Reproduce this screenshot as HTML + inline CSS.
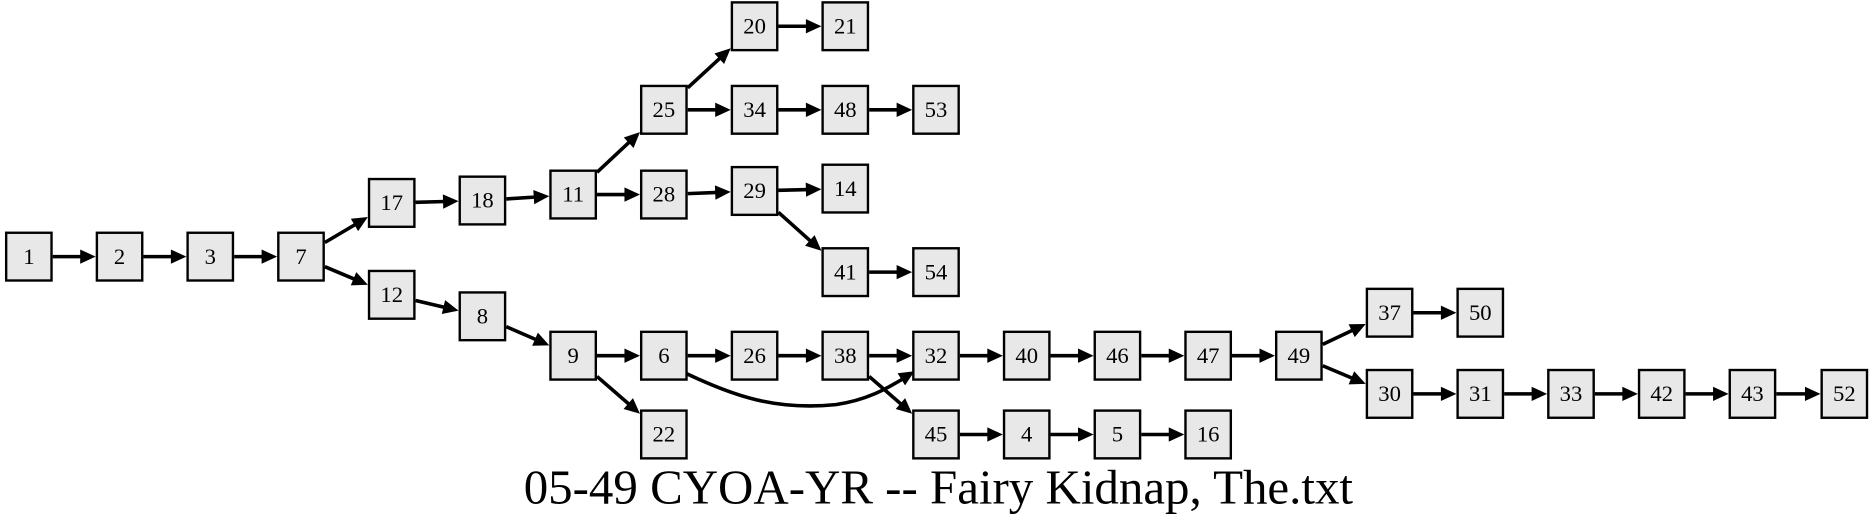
<!DOCTYPE html>
<html><head><meta charset="utf-8"><style>
html,body{margin:0;padding:0;background:#fff;}
svg{display:block;}
text{font-family:"Liberation Serif",serif;}
</style></head><body>
<svg id="s" width="1872" height="524" viewBox="0 0 1568 439" xmlns="http://www.w3.org/2000/svg">
<rect width="1568" height="439" fill="#fff"/>
<g id="edges" stroke="#000" stroke-width="3" fill="none"></g>
<g id="heads" fill="#000"></g>
<g id="nodes" fill="#e8e8e8" stroke="#000" stroke-width="2" font-size="19" text-anchor="middle">
<g transform="translate(24,215)"><rect x="-19" y="-20" width="38" height="40"/><text y="6" stroke="none" fill="#000">1</text></g>
<g transform="translate(100,215)"><rect x="-19" y="-20" width="38" height="40"/><text y="6" stroke="none" fill="#000">2</text></g>
<g transform="translate(176,215)"><rect x="-19" y="-20" width="38" height="40"/><text y="6" stroke="none" fill="#000">3</text></g>
<g transform="translate(252,215)"><rect x="-19" y="-20" width="38" height="40"/><text y="6" stroke="none" fill="#000">7</text></g>
<g transform="translate(328,170)"><rect x="-19" y="-20" width="38" height="40"/><text y="6" stroke="none" fill="#000">17</text></g>
<g transform="translate(328,247)"><rect x="-19" y="-20" width="38" height="40"/><text y="6" stroke="none" fill="#000">12</text></g>
<g transform="translate(404,168)"><rect x="-19" y="-20" width="38" height="40"/><text y="6" stroke="none" fill="#000">18</text></g>
<g transform="translate(404,265)"><rect x="-19" y="-20" width="38" height="40"/><text y="6" stroke="none" fill="#000">8</text></g>
<g transform="translate(480,163)"><rect x="-19" y="-20" width="38" height="40"/><text y="6" stroke="none" fill="#000">11</text></g>
<g transform="translate(480,298)"><rect x="-19" y="-20" width="38" height="40"/><text y="6" stroke="none" fill="#000">9</text></g>
<g transform="translate(556,92)"><rect x="-19" y="-20" width="38" height="40"/><text y="6" stroke="none" fill="#000">25</text></g>
<g transform="translate(556,163)"><rect x="-19" y="-20" width="38" height="40"/><text y="6" stroke="none" fill="#000">28</text></g>
<g transform="translate(556,298)"><rect x="-19" y="-20" width="38" height="40"/><text y="6" stroke="none" fill="#000">6</text></g>
<g transform="translate(556,364)"><rect x="-19" y="-20" width="38" height="40"/><text y="6" stroke="none" fill="#000">22</text></g>
<g transform="translate(632,22)"><rect x="-19" y="-20" width="38" height="40"/><text y="6" stroke="none" fill="#000">20</text></g>
<g transform="translate(632,92)"><rect x="-19" y="-20" width="38" height="40"/><text y="6" stroke="none" fill="#000">34</text></g>
<g transform="translate(632,160)"><rect x="-19" y="-20" width="38" height="40"/><text y="6" stroke="none" fill="#000">29</text></g>
<g transform="translate(632,298)"><rect x="-19" y="-20" width="38" height="40"/><text y="6" stroke="none" fill="#000">26</text></g>
<g transform="translate(708,22)"><rect x="-19" y="-20" width="38" height="40"/><text y="6" stroke="none" fill="#000">21</text></g>
<g transform="translate(708,92)"><rect x="-19" y="-20" width="38" height="40"/><text y="6" stroke="none" fill="#000">48</text></g>
<g transform="translate(708,158)"><rect x="-19" y="-20" width="38" height="40"/><text y="6" stroke="none" fill="#000">14</text></g>
<g transform="translate(708,228)"><rect x="-19" y="-20" width="38" height="40"/><text y="6" stroke="none" fill="#000">41</text></g>
<g transform="translate(708,298)"><rect x="-19" y="-20" width="38" height="40"/><text y="6" stroke="none" fill="#000">38</text></g>
<g transform="translate(784,92)"><rect x="-19" y="-20" width="38" height="40"/><text y="6" stroke="none" fill="#000">53</text></g>
<g transform="translate(784,228)"><rect x="-19" y="-20" width="38" height="40"/><text y="6" stroke="none" fill="#000">54</text></g>
<g transform="translate(784,298)"><rect x="-19" y="-20" width="38" height="40"/><text y="6" stroke="none" fill="#000">32</text></g>
<g transform="translate(784,364)"><rect x="-19" y="-20" width="38" height="40"/><text y="6" stroke="none" fill="#000">45</text></g>
<g transform="translate(860,298)"><rect x="-19" y="-20" width="38" height="40"/><text y="6" stroke="none" fill="#000">40</text></g>
<g transform="translate(860,364)"><rect x="-19" y="-20" width="38" height="40"/><text y="6" stroke="none" fill="#000">4</text></g>
<g transform="translate(936,298)"><rect x="-19" y="-20" width="38" height="40"/><text y="6" stroke="none" fill="#000">46</text></g>
<g transform="translate(936,364)"><rect x="-19" y="-20" width="38" height="40"/><text y="6" stroke="none" fill="#000">5</text></g>
<g transform="translate(1012,298)"><rect x="-19" y="-20" width="38" height="40"/><text y="6" stroke="none" fill="#000">47</text></g>
<g transform="translate(1012,364)"><rect x="-19" y="-20" width="38" height="40"/><text y="6" stroke="none" fill="#000">16</text></g>
<g transform="translate(1088,298)"><rect x="-19" y="-20" width="38" height="40"/><text y="6" stroke="none" fill="#000">49</text></g>
<g transform="translate(1164,262)"><rect x="-19" y="-20" width="38" height="40"/><text y="6" stroke="none" fill="#000">37</text></g>
<g transform="translate(1164,330)"><rect x="-19" y="-20" width="38" height="40"/><text y="6" stroke="none" fill="#000">30</text></g>
<g transform="translate(1240,262)"><rect x="-19" y="-20" width="38" height="40"/><text y="6" stroke="none" fill="#000">50</text></g>
<g transform="translate(1240,330)"><rect x="-19" y="-20" width="38" height="40"/><text y="6" stroke="none" fill="#000">31</text></g>
<g transform="translate(1316,330)"><rect x="-19" y="-20" width="38" height="40"/><text y="6" stroke="none" fill="#000">33</text></g>
<g transform="translate(1392,330)"><rect x="-19" y="-20" width="38" height="40"/><text y="6" stroke="none" fill="#000">42</text></g>
<g transform="translate(1468,330)"><rect x="-19" y="-20" width="38" height="40"/><text y="6" stroke="none" fill="#000">43</text></g>
<g transform="translate(1545,330)"><rect x="-19" y="-20" width="38" height="40"/><text y="6" stroke="none" fill="#000">52</text></g>
</g>
<text x="786" y="422" font-size="41" text-anchor="middle" fill="#000">05-49 CYOA-YR -- Fairy Kidnap, The.txt</text>
</svg>
<script>
var P={1:[24,215],2:[100,215],3:[176,215],7:[252,215],17:[328,170],12:[328,247],18:[404,168],8:[404,265],11:[480,163],9:[480,298],25:[556,92],28:[556,163],6:[556,298],22:[556,364],20:[632,22],34:[632,92],29:[632,160],26:[632,298],21:[708,22],48:[708,92],14:[708,158],41:[708,228],38:[708,298],53:[784,92],54:[784,228],32:[784,298],45:[784,364],40:[860,298],4:[860,364],46:[936,298],5:[936,364],47:[1012,298],16:[1012,364],49:[1088,298],37:[1164,262],30:[1164,330],50:[1240,262],31:[1240,330],33:[1316,330],42:[1392,330],43:[1468,330],52:[1545,330]};
var E=[[1,2],[2,3],[3,7],[7,17],[7,12],[17,18],[18,11],[12,8],[8,9],[11,25],[11,28],[9,6],[9,22],[25,20],[25,34],[28,29],[6,26],[20,21],[34,48],[29,14],[29,41],[26,38],[48,53],[41,54],[38,32],[38,45],[32,40],[45,4],[40,46],[4,5],[46,47],[5,16],[47,49],[49,37],[49,30],[37,50],[30,31],[31,33],[33,42],[42,43],[43,52]];
var ns="http://www.w3.org/2000/svg",eg=document.getElementById('edges'),hg=document.getElementById('heads');
function clip(c,dx,dy){var hw=20,hh=21;var t=Math.min(dx?hw/Math.abs(dx):1e9,dy?hh/Math.abs(dy):1e9);return[c[0]+dx*t,c[1]+dy*t];}
function head(x,y,ux,uy){var L=13,W=6;var bx=x-ux*L,by=y-uy*L;var p=document.createElementNS(ns,'polygon');p.setAttribute('points',x+','+y+' '+(bx-uy*W)+','+(by+ux*W)+' '+(bx+uy*W)+','+(by-ux*W));hg.appendChild(p);}
E.forEach(function(e){var a=P[e[0]],b=P[e[1]];var dx=b[0]-a[0],dy=b[1]-a[1];var s=clip(a,dx,dy),t=clip(b,-dx,-dy);var l=Math.hypot(t[0]-s[0],t[1]-s[1]);var ux=(t[0]-s[0])/l,uy=(t[1]-s[1])/l;
var ln=document.createElementNS(ns,'line');ln.setAttribute('x1',s[0]);ln.setAttribute('y1',s[1]);ln.setAttribute('x2',t[0]-ux*11);ln.setAttribute('y2',t[1]-uy*11);eg.appendChild(ln);head(t[0],t[1],ux,uy);});
var pa=document.createElementNS(ns,'path');pa.setAttribute('d','M575,313 C615,332 650,344 700,339 C728,335 745,324 757,317');eg.appendChild(pa);
head(766,311,0.85,-0.52);
</script>
</body></html>
